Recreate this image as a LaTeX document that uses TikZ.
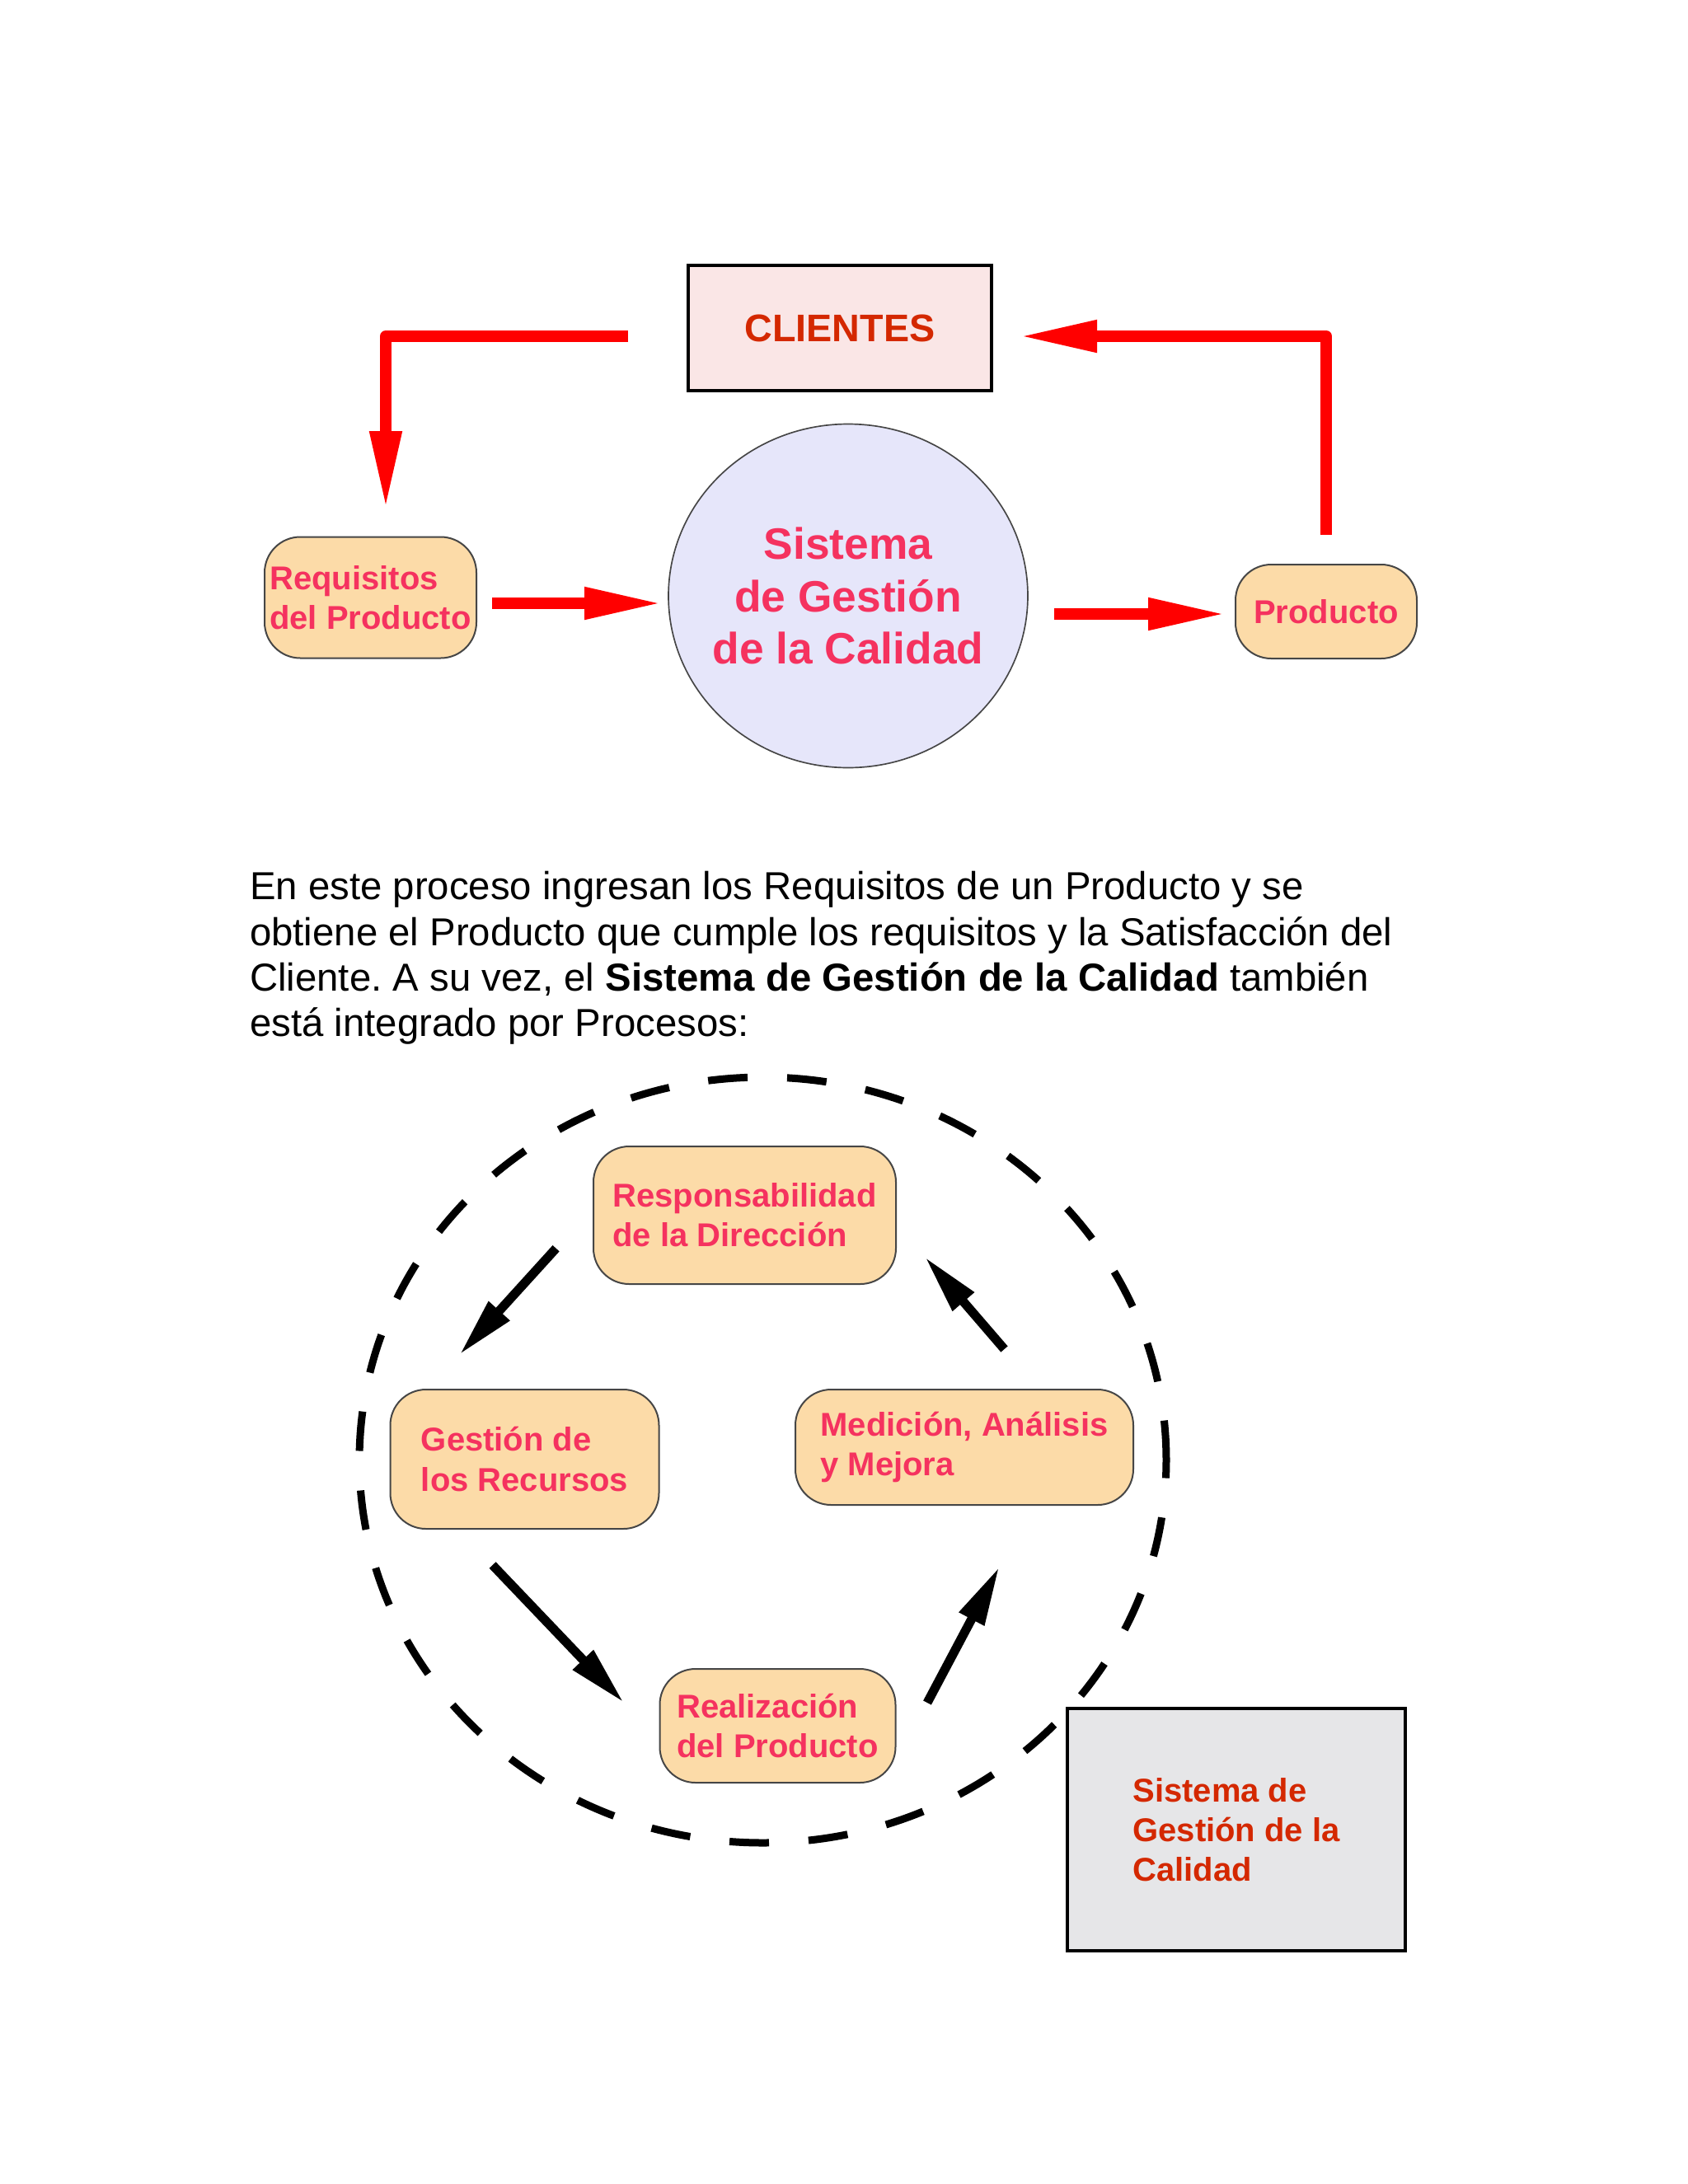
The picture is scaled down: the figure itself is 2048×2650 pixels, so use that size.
\documentclass[tikz,border=0pt]{standalone}
\usepackage{fontspec}
\setmainfont{Liberation Sans}
\usetikzlibrary{arrows.meta,shapes.geometric}
\definecolor{cliTxt}{RGB}{212,40,0}
\definecolor{pinkTxt}{RGB}{245,50,95}
\definecolor{cliFill}{RGB}{250,230,230}
\definecolor{ellFill}{RGB}{230,230,250}
\definecolor{boxFill}{RGB}{252,219,168}
\definecolor{grayFill}{RGB}{230,230,232}
\definecolor{boxLine}{RGB}{70,70,70}
\frenchspacing
\begin{document}
\begin{tikzpicture}[x=0.3pt,y=-0.3pt,
  redarrow/.style={draw=red, line width=4.2pt, line join=round, -{Triangle[length=28.5pt,width=10.8pt]}},
  blackarrow/.style={draw=black, line width=3.3pt, -{Triangle[length=21.6pt,width=9.6pt]}},
  roundbox/.style={rounded corners=13pt, draw=boxLine, line width=0.6pt, fill=boxFill, text=pinkTxt,
    font=\bfseries\fontsize{12}{14.5}\selectfont, align=left, inner sep=0pt},
  squarebox/.style={draw=black, line width=1.4pt, inner sep=0pt},
  ring/.style={ellipse, draw=black, line width=2.7pt, dash pattern=on 14.4pt off 14.4pt, inner sep=0pt}
]
\fill[white] (0,0) rectangle (2048,2650);
\useasboundingbox (0,0) rectangle (2048,2650);

% ---------- top part ----------
\node[squarebox, fill=cliFill, minimum width=110.4pt, minimum height=45.6pt, text=cliTxt,
  font=\bfseries\fontsize{14}{16}\selectfont] (clientes) at (1019,398) {CLIENTES};

\node[ellipse, draw=boxLine, line width=0.5pt, fill=ellFill, minimum width=130.8pt,
  minimum height=125.1pt, inner sep=0pt] (sgc) at (1029,723) {};
\node[text=pinkTxt, align=center, inner sep=0pt, font=\bfseries\fontsize{16}{19}\selectfont]
  (sgctext) at (sgc.center) {Sistema\\de Gestión\\de la Calidad};

\node[roundbox, minimum width=77.1pt, minimum height=44.1pt] (req) at (449.5,725) {Requisitos\\del Producto};
\node[roundbox, minimum width=66pt, minimum height=34.2pt] (prod) at (1609,742) {Producto};

\coordinate (r1s) at (762,408);
\coordinate (r1e) at (468,618);
\coordinate (r2s) at (1609,649);
\coordinate (r2e) at (1236,408);
\coordinate (r3s) at (597,732);
\coordinate (r3e) at (804,732);
\coordinate (r4s) at (1279,745);
\coordinate (r4e) at (1488,745);

\draw[redarrow] (r1s) -| (r1e);
\draw[redarrow] (r2s) |- (r2e);
\draw[redarrow] (r3s) -- (r3e);
\draw[redarrow] (r4s) -- (r4e);

% ---------- paragraph ----------
\node[anchor=north west, inner sep=0pt, align=left, font=\fontsize{14.2}{16.6}\selectfont] (para) at (302.5,1057)
{En este proceso ingresan los Requisitos de un Producto y se\\
obtiene el Producto que cumple los requisitos y la Satisfacción del\\
Cliente. A su vez, el \textbf{Sistema de Gestión de la Calidad} también\\
está integrado por Procesos:};

% ---------- bottom part ----------
\node[ring, minimum width=293.7pt, minimum height=278.7pt] (anillo) at (925.5,1771.5) {};

\node[roundbox, minimum width=110.1pt, minimum height=50.1pt] (resp) at (903.5,1474.5) {Responsabilidad\\de la Dirección};
\node[roundbox, minimum width=97.8pt, minimum height=50.7pt] (gest) at (636.5,1770.5) {Gestión de\\los Recursos};
\node[roundbox, minimum width=123pt, minimum height=42pt] (med) at (1170,1756) {Medición, Análisis\\y Mejora};
\node[roundbox, minimum width=85.8pt, minimum height=41.4pt] (real) at (943.5,2094) {Realización\\del Producto};

\coordinate (b1s) at (674.6,1514.7);
\coordinate (b1e) at (557.4,1643.8);
\coordinate (b2s) at (597.6,1899);
\coordinate (b2e) at (757,2066);
\coordinate (b3s) at (1125,2066);
\coordinate (b3e) at (1212.5,1901);
\coordinate (b4s) at (1218.5,1637);
\coordinate (b4e) at (1122,1525);

\draw[blackarrow] (b1s) -- (b1e);
\draw[blackarrow] (b2s) -- (b2e);
\draw[blackarrow] (b3s) -- (b3e);
\draw[blackarrow] (b4s) -- (b4e);

\node[squarebox, fill=grayFill, minimum width=123pt, minimum height=88.2pt, text=cliTxt, align=left,
  font=\bfseries\fontsize{12}{14.4}\selectfont] (sgcbox) at (1500,2220) {Sistema de\\Gestión de la\\Calidad};
\end{tikzpicture}
\end{document}
